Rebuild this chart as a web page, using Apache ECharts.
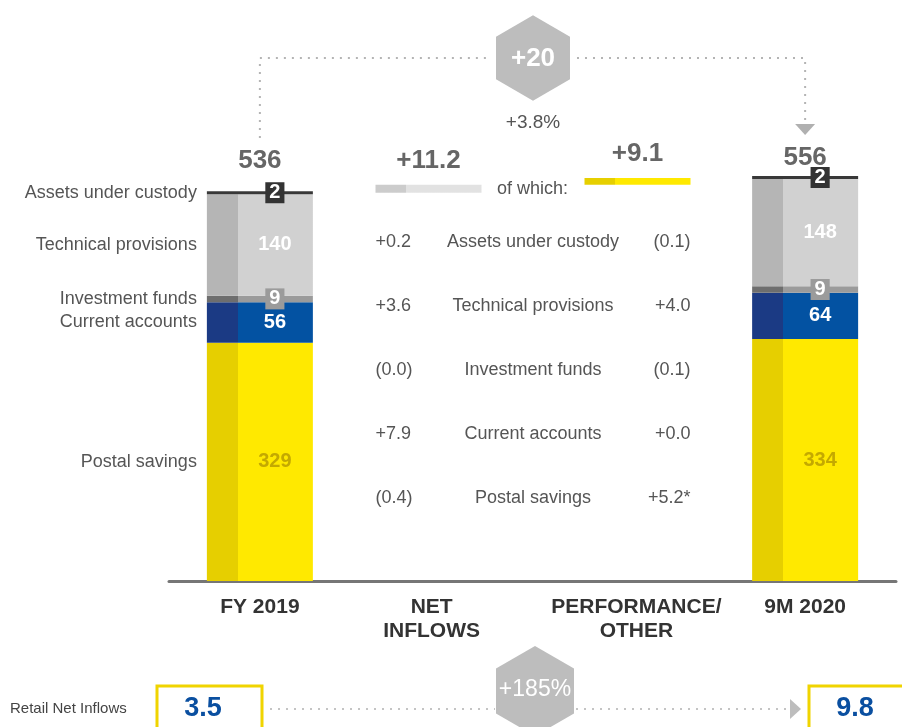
<!DOCTYPE html>
<html>
<head>
<meta charset="utf-8">
<script src="https://cdn.jsdelivr.net/npm/echarts@6/dist/echarts.min.js"></script>
<style>
html, body { margin: 0; padding: 0; background: #fff; }
#chart { width: 902px; height: 727px; }
</style>
</head>
<body>
<div id="chart"></div>
<script>
// data, bottom of the stack first
var categories = ['FY 2019', 'NET\nINFLOWS', 'PERFORMANCE/\nOTHER', '9M 2020']
var segments = ['Postal savings', 'Current accounts', 'Investment funds', 'Technical provisions', 'Assets under custody']
var fy2019 = [329, 56, 9, 140, 2]
var m9_2020 = [334, 64, 9, 148, 2]
var totals = [536, 556]
var bridgeSteps = ['NET INFLOWS', 'PERFORMANCE/OTHER']
var bridgeValues = [11.2, 9.1]
var bridgeLabels = ['+11.2', '+9.1']
// breakdown table, same order as segments
var netInflowsBySeg = ['(0.4)', '+7.9', '(0.0)', '+3.6', '+0.2']
var performanceBySeg = ['+5.2*', '+0.0', '(0.1)', '+4.0', '(0.1)']
var totalChange = '+20'
var totalChangePct = '+3.8%'
var retailLabel = 'Retail Net Inflows'
var retailInflows = [3.5, 9.8]
var retailChange = '+185%'

var FONT = 'Liberation Sans, Arial, sans-serif'
var TXT = '#555'

function twoTone(dark, light) {
  return new echarts.graphic.LinearGradient(0, 0, 1, 0, [
    { offset: 0, color: dark },
    { offset: 0.29, color: dark },
    { offset: 0.29, color: light },
    { offset: 1, color: light }
  ])
}

var segStyle = [
  { dark: '#e6cf00', light: '#ffe900', label: { color: '#c4a900' } },
  { dark: '#1b3a84', light: '#0352a2', label: { color: '#fff' } },
  { dark: '#6e6e6e', light: '#9b9b9b', label: { color: '#fff', backgroundColor: '#9b9b9b', padding: [1, 4, 0, 4] } },
  { dark: '#b5b5b5', light: '#d1d1d1', label: { color: '#fff' } },
  { dark: '#383838', light: '#383838', label: { color: '#fff', backgroundColor: '#333', padding: [1, 4, 0, 4] } }
]
var bridgeColors = [['#cccccc', '#e2e2e2'], ['#e6cf00', '#ffe900']]
var totalLabelGap = [19, 7]
var bigLabel = { fontFamily: FONT, fontSize: 26, fontWeight: 'bold', color: '#666' }

var series = segments.map(function (name, i) {
  var st = segStyle[i]
  return {
    name: name,
    type: 'bar',
    stack: 'total',
    xAxisIndex: 0,
    yAxisIndex: 0,
    barWidth: 106,
    barMinHeight: i === 4 ? 3 : 0,
    data: [fy2019[i], '-', '-', m9_2020[i]],
    itemStyle: { color: twoTone(st.dark, st.light) },
    label: Object.assign({
      show: true,
      position: 'inside',
      offset: [15, 0],
      fontFamily: FONT,
      fontSize: 20,
      fontWeight: 'bold'
    }, st.label)
  }
})

// empty bar on top of each stack carries the total
series.push({
  name: 'Total',
  type: 'bar',
  stack: 'total',
  xAxisIndex: 0,
  yAxisIndex: 0,
  barWidth: 106,
  data: [
    { value: 0, label: Object.assign({ distance: totalLabelGap[0] }, bigLabel) },
    '-', '-',
    { value: 0, label: Object.assign({ distance: totalLabelGap[1] }, bigLabel) }
  ],
  label: Object.assign({
    show: true,
    position: 'top',
    formatter: function (p) { return String(totals[p.dataIndex === 0 ? 0 : 1]) }
  }, bigLabel)
})

// waterfall between the two periods
var bridgeBase = [totals[0], totals[0] + bridgeValues[0]]
series.push({
  name: 'base',
  type: 'bar',
  stack: 'bridge',
  xAxisIndex: 1,
  yAxisIndex: 1,
  barWidth: 106,
  silent: true,
  itemStyle: { color: 'rgba(0,0,0,0)' },
  data: bridgeBase
})
series.push({
  name: 'bridge',
  type: 'bar',
  stack: 'bridge',
  xAxisIndex: 1,
  yAxisIndex: 1,
  barWidth: 106,
  data: bridgeValues.map(function (v, i) {
    return { value: v, itemStyle: { color: twoTone(bridgeColors[i][0], bridgeColors[i][1]) } }
  }),
  label: Object.assign({
    show: true,
    position: 'top',
    distance: 11,
    formatter: function (p) { return bridgeLabels[p.dataIndex] }
  }, bigLabel)
})

var axisFont = { fontFamily: FONT, fontSize: 21, fontWeight: 'bold', color: '#333', lineHeight: 24 }

var option = {
  animation: false,
  grid: [
    { left: 169, right: 6, top: 74, bottom: 146 },
    { left: 324, right: 160, top: 74, bottom: 146 }
  ],
  xAxis: [
    {
      type: 'category',
      gridIndex: 0,
      data: categories,
      axisTick: { show: false },
      axisLine: { lineStyle: { color: '#767676', width: 3 } },
      axisLabel: Object.assign({
        margin: 14,
        interval: 0,
        formatter: function (value, idx) {
          var lines = value.split('\n')
          if (idx === 1) return lines.map(function (l) { return '{l|' + l + '}' }).join('\n')
          if (idx === 2) return lines.map(function (l) { return '{r|' + l + '}' }).join('\n')
          return value
        },
        rich: {
          l: Object.assign({ padding: [0, 20, 0, 0] }, axisFont),
          r: Object.assign({ padding: [0, 0, 0, 26] }, axisFont)
        }
      }, axisFont)
    },
    { type: 'category', gridIndex: 1, data: bridgeSteps, show: false }
  ],
  yAxis: [
    { type: 'value', gridIndex: 0, min: 0, max: 700, show: false, splitLine: { show: false } },
    { type: 'value', gridIndex: 1, min: 0, max: 700, show: false, splitLine: { show: false } }
  ],
  series: series
}

var chart = echarts.init(document.getElementById('chart'))
chart.setOption(option)

// annotations placed from the axes
function px(axis, cat, val) {
  return chart.convertToPixel({ xAxisIndex: axis, yAxisIndex: axis }, [cat, val])
}
function text(x, y, str, opt) {
  return {
    type: 'text',
    x: x,
    y: y,
    z: 10,
    style: Object.assign({
      text: str,
      fill: TXT,
      fontFamily: FONT,
      fontSize: 18,
      align: 'center',
      verticalAlign: 'middle'
    }, opt || {})
  }
}
function dotted(points, color) {
  return {
    type: 'polyline',
    z: 5,
    shape: { points: points },
    style: { stroke: color || '#b4b4b4', lineWidth: 2, lineDash: [2, 6], fill: null }
  }
}
function hexagon(cx, cy, w) {
  var r = w / Math.sqrt(3)
  var h = w / 2
  return {
    type: 'polygon',
    z: 6,
    shape: { points: [[cx, cy - r], [cx + h, cy - r / 2], [cx + h, cy + r / 2], [cx, cy + r], [cx - h, cy + r / 2], [cx - h, cy - r / 2]] },
    style: { fill: '#bdbdbd' }
  }
}

var g = []
var leftX = px(0, 0, 0)[0]
var rightX = px(0, 3, 0)[0]
var barHalf = 53

// segment names beside the first bar
var cum = 0
segments.forEach(function (name, i) {
  var y = px(0, 0, cum + fy2019[i] / 2)[1]
  cum += fy2019[i]
  g.push(text(leftX - barHalf - 10, y, name, { align: 'right' }))
})

// of which + breakdown table between the bridge bars
var b0 = px(1, 0, 0)[0]
var b1 = px(1, 1, 0)[0]
var midX = (b0 + b1) / 2
g.push(text(497, 189, 'of which:', { align: 'left' }))
var rows = segments.length
for (var r = 0; r < rows; r++) {
  var i = rows - 1 - r
  var y = 242 + r * 64
  g.push(text(b0 - barHalf, y, netInflowsBySeg[i], { align: 'left' }))
  g.push(text(midX, y, segments[i]))
  g.push(text(b1 + barHalf, y, performanceBySeg[i], { align: 'right' }))
}

// top connector
var hexW = 74
var topY = 58
g.push(dotted([[leftX, 138], [leftX, topY], [midX - hexW / 2 - 7, topY]]))
g.push(dotted([[midX + hexW / 2 + 7, topY], [rightX, topY], [rightX, 122]]))
g.push({
  type: 'polygon', z: 6,
  shape: { points: [[rightX - 10, 124], [rightX + 10, 124], [rightX, 135]] },
  style: { fill: '#b0b0b0' }
})
g.push(hexagon(midX, topY, hexW))
g.push(text(midX, topY + 1, totalChange, { fill: '#fff', fontSize: 26, fontWeight: 'bold' }))
g.push(text(midX, 123, totalChangePct, { fontSize: 19 }))

// retail net inflows strip
var rowY = 709
g.push(text(10, rowY, retailLabel, { align: 'left', fontSize: 15, fill: '#444' }))
var boxes = [157, 809]
boxes.forEach(function (bx, i) {
  g.push({
    type: 'rect', z: 6,
    shape: { x: bx, y: 686, width: 105, height: 60 },
    style: { fill: 'none', stroke: '#f0d400', lineWidth: 3 }
  })
  g.push(text(bx + 46, rowY, retailInflows[i].toFixed(1), { fill: '#0a4fa0', fontSize: 27, fontWeight: 'bold' }))
})
g.push(dotted([[270, rowY], [495, rowY]], '#c4c4c4'))
g.push(dotted([[576, rowY], [786, rowY]], '#c4c4c4'))
g.push({
  type: 'polygon', z: 6,
  shape: { points: [[790, rowY - 10], [790, rowY + 10], [801, rowY]] },
  style: { fill: '#bdbdbd' }
})
g.push(hexagon(535, 691, 78))
g.push(text(535, 690, retailChange, { fill: '#fff', fontSize: 23 }))

chart.setOption({ graphic: g })
</script>
</body>
</html>
